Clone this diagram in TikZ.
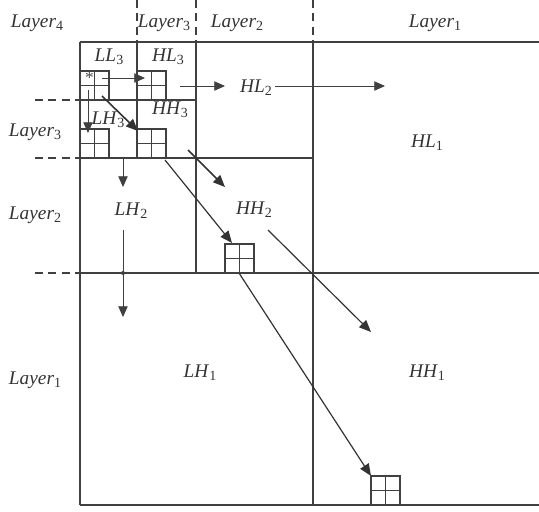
\documentclass[tikz,border=0pt]{standalone}
\usepackage{fontspec}
\setmainfont{Liberation Serif}
\usetikzlibrary{arrows.meta}
\newcommand\lay[2]{\textit{#1}\raisebox{-0.35ex}{\fontsize{10.5}{12}\selectfont #2}}
\begin{document}
\begin{tikzpicture}[x=0.75pt,y=-0.75pt,
 frame/.style={draw=black!75,line width=1.1pt},
 gridbox/.style={draw=black!75,line width=1pt,minimum size=21.75pt,inner sep=0pt,
   path picture={\draw[black!75,line width=0.9pt]
     (path picture bounding box.north) -- (path picture bounding box.south)
     (path picture bounding box.west) -- (path picture bounding box.east);}},
 dsh/.style={draw=black!75,line width=0.9pt,dash pattern=on 6pt off 4pt},
 thinarr/.style={draw=black!75,line width=0.6pt,-{Triangle[length=8pt,width=7pt]}},
 midarr/.style={draw=black!80,line width=0.9pt,-{Triangle[length=9pt,width=7.5pt]}},
 thickarr/.style={draw=black!80,line width=1.2pt,-{Triangle[length=9pt,width=7.5pt]}},
 lbl/.style={font=\fontsize{14.5}{16}\selectfont,text=black!80,inner sep=0pt}]
\useasboundingbox (0,0) rectangle (539,511);
% frames
\draw[frame] (80,42) -- (539,42);
\draw[frame] (80,505) -- (539,505);
\draw[frame] (80,42) -- (80,505);
\draw[frame] (313,42) -- (313,505);
\draw[frame] (80,273) -- (539,273);
\draw[frame] (196,42) -- (196,273);
\draw[frame] (80,158) -- (313,158);
\draw[frame] (137,42) -- (137,158);
\draw[frame] (80,100) -- (196,100);
% dashed layer separators
\draw[dsh] (137,0) -- (137,42);
\draw[dsh] (196,0) -- (196,42);
\draw[dsh] (313,0) -- (313,42);
\draw[dsh] (35,100) -- (80,100);
\draw[dsh] (35,158) -- (80,158);
\draw[dsh] (35,273) -- (80,273);
% small grids
\node[gridbox] (gA) at (94.5,85.5) {};
\node[gridbox] (gB) at (151.5,85.5) {};
\node[gridbox] (gC) at (94.5,143.5) {};
\node[gridbox] (gD) at (151.5,143.5) {};
\node[gridbox] (gE) at (239.5,258.5) {};
\node[gridbox] (gF) at (385.5,490.5) {};
\node[inner sep=0pt,font=\fontsize{13}{14}\selectfont,text=black!70] (star) at (89.5,78) {*};
% labels
\node[lbl] (t4) at (37,23) {\lay{Layer}{4}};
\node[lbl] (t3) at (164,23) {\lay{Layer}{3}};
\node[lbl] (t2) at (237,23) {\lay{Layer}{2}};
\node[lbl] (t1) at (435,23) {\lay{Layer}{1}};
\node[lbl] (l3) at (35,132) {\lay{Layer}{3}};
\node[lbl] (l2) at (35,215) {\lay{Layer}{2}};
\node[lbl] (l1) at (35,380) {\lay{Layer}{1}};
\node[lbl] (LL3) at (109,57) {\lay{LL}{3}};
\node[lbl] (HL3) at (168,57) {\lay{HL}{3}};
\node[lbl] (LH3) at (108,120) {\lay{LH}{3}};
\node[lbl] (HH3) at (170,110) {\lay{HH}{3}};
\node[lbl] (HL2) at (256,88) {\lay{HL}{2}};
\node[lbl] (HL1) at (427,143) {\lay{HL}{1}};
\node[lbl] (LH2) at (131,211) {\lay{LH}{2}};
\node[lbl] (HH2) at (254,210) {\lay{HH}{2}};
\node[lbl] (LH1) at (200,373) {\lay{LH}{1}};
\node[lbl] (HH1) at (427,373) {\lay{HH}{1}};
% arrow end points
\coordinate (a1s) at (102,78);  \coordinate (a1e) at (145,78);
\coordinate (a2s) at (88,90);   \coordinate (a2e) at (88,133);
\coordinate (a3s) at (102,96);  \coordinate (a3e) at (138,131);
\coordinate (a4s) at (180,86);  \coordinate (a4e) at (225,86);
\coordinate (a5s) at (275,86);  \coordinate (a5e) at (385,86);
\coordinate (a6s) at (123,157); \coordinate (a6e) at (123,187);
\coordinate (a7s) at (188,150); \coordinate (a7e) at (225,187);
\coordinate (a8s) at (165,160); \coordinate (a8e) at (232,243);
\coordinate (a9s) at (239,273); \coordinate (a9e) at (371,476);
\coordinate (a10s) at (268,230); \coordinate (a10e) at (371,332);
\coordinate (a11s) at (123,230); \coordinate (a11e) at (123,317);
\coordinate (dot) at (123,273);
% arrows
\draw[thinarr] (a1s) -- (a1e);
\draw[thinarr] (a2s) -- (a2e);
\draw[thickarr] (a3s) -- (a3e);
\draw[thinarr] (a4s) -- (a4e);
\draw[thinarr] (a5s) -- (a5e);
\draw[thinarr] (a6s) -- (a6e);
\draw[thickarr] (a7s) -- (a7e);
\draw[midarr] (a8s) -- (a8e);
\draw[midarr] (a9s) -- (a9e);
\draw[midarr] (a10s) -- (a10e);
\draw[thinarr] (a11s) -- (a11e);
\fill[black!75] (dot) circle (1.5pt);
\end{tikzpicture}
\end{document}
